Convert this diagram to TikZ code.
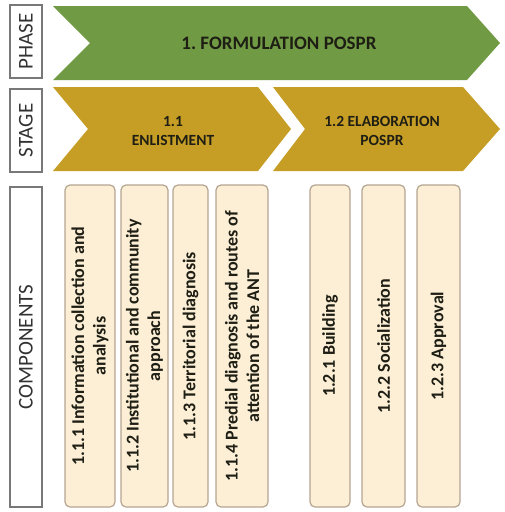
\documentclass[tikz,border=0pt]{standalone}
\usepackage{fontspec}
\setmainfont{Carlito}
\usetikzlibrary{positioning}
\definecolor{phasegreen}{RGB}{112,155,68}
\definecolor{stagegold}{RGB}{198,158,38}
\definecolor{compfill}{RGB}{252,239,214}
\definecolor{compline}{RGB}{180,165,145}
\definecolor{labelline}{RGB}{120,120,120}
\definecolor{labeltext}{RGB}{50,50,50}
\definecolor{darktext}{RGB}{30,30,20}

\begin{document}
\frenchspacing
\begin{tikzpicture}[x=1pt,y=-1pt,
  labelbox/.style={draw=labelline, line width=1.2pt, rotate=90, minimum height=32pt, inner sep=0pt, text=labeltext, font=\fontsize{21}{25}\selectfont},
  chevtext/.style={align=center, text=darktext, font=\bfseries\fontsize{15.5}{19}\selectfont},
  comp/.style={draw=compline, fill=compfill, line width=1.2pt, rounded corners=5pt, rotate=90, minimum width=322pt, inner sep=0pt, align=center, text=darktext, font=\bfseries\fontsize{18}{21.5}\selectfont}]
\useasboundingbox (0,0) rectangle (504,512);

% row labels
\node[labelbox, minimum width=73pt] (phase) at (26,41.5) {PHASE};
\node[labelbox, minimum width=83pt] (stage) at (26,130.5) {STAGE};
\node[labelbox, minimum width=320pt] (components) at (26,347) {COMPONENTS};

% phase
\fill[phasegreen] (53,6) -- (467,6) -- (500,43) -- (467,80) -- (53,80) -- (90,43) -- cycle;
\node[chevtext, font=\bfseries\fontsize{19}{22}\selectfont] (formulation) at (279,43) {1. FORMULATION POSPR};

% stages
\fill[stagegold] (53,87) -- (258,87) -- (291,129) -- (258,171) -- (53,171) -- (88,129) -- cycle;
\fill[stagegold] (273,87) -- (463,87) -- (500,129) -- (463,171) -- (273,171) -- (305,129) -- cycle;
\node[chevtext] (enlistment) at (173,131) {1.1\\ENLISTMENT};
\node[chevtext] (elaboration) at (382,131) {1.2 ELABORATION\\POSPR};

% components
\node[comp, minimum height=50pt] (c111) at (90,346) {1.1.1 Information collection and\\analysis};
\node[comp, minimum height=47pt] (c112) at (144.5,346) {1.1.2 Institutional and community\\approach};
\node[comp, minimum height=35pt] (c113) at (190.5,346) {1.1.3 Territorial diagnosis};
\node[comp, minimum height=52pt] (c114) at (242,346) {1.1.4 Predial diagnosis and routes of\\attention of the ANT};
\node[comp, minimum height=40pt] (c121) at (330,346) {1.2.1 Building};
\node[comp, minimum height=43pt] (c122) at (383.5,346) {1.2.2 Socialization};
\node[comp, minimum height=43pt] (c123) at (438.5,346) {1.2.3 Approval};
\end{tikzpicture}
\end{document}
